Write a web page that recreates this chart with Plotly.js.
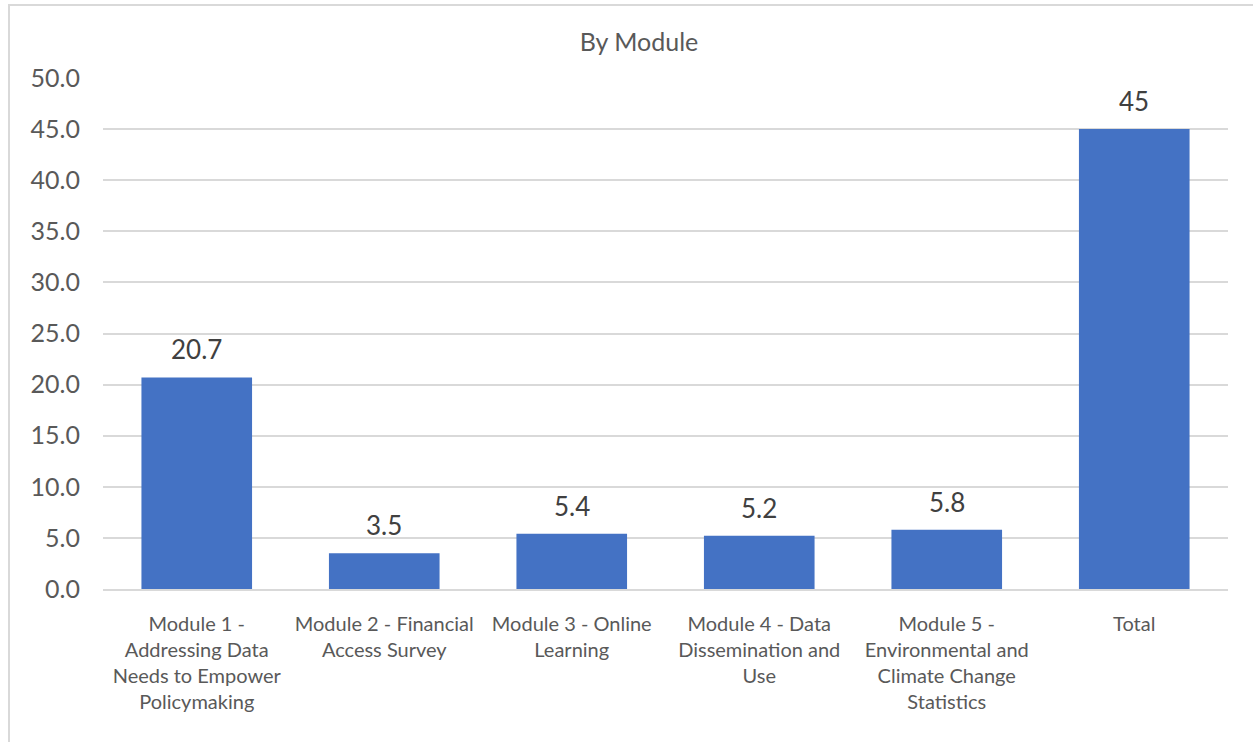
<!DOCTYPE html>
<html>
<head>
<meta charset="utf-8">
<script src="https://cdn.plot.ly/plotly-3.0.1.min.js"></script>
<style>
  html, body { margin: 0; padding: 0; background: #ffffff; overflow: hidden; }
  #chart { position: absolute; left: 0; top: 0; width: 1253px; height: 742px; }
  #frame { position: absolute; left: 8px; top: 4px; width: 1300px; height: 800px;
           border-left: 2px solid #d9d9d9; border-top: 2px solid #d9d9d9; pointer-events: none; }
</style>
</head>
<body>
<div id="chart"></div>
<div id="frame"></div>
<script>
const categories = [
  "Module 1 -<br>Addressing Data<br>Needs to Empower<br>Policymaking",
  "Module 2 - Financial<br>Access Survey",
  "Module 3 - Online<br>Learning",
  "Module 4 - Data<br>Dissemination and<br>Use",
  "Module 5 -<br>Environmental and<br>Climate Change<br>Statistics",
  "Total"
];
const values = [20.7, 3.5, 5.4, 5.2, 5.8, 45];
const valueLabels = ["20.7", "3.5", "5.4", "5.2", "5.8", "45"];
const yTicks = [0, 5, 10, 15, 20, 25, 30, 35, 40, 45, 50];
const yTickLabels = ["0.0", "5.0", "10.0", "15.0", "20.0", "25.0", "30.0", "35.0", "40.0", "45.0", "50.0"];
const chartTitle = "By Module";

const FONT = "Lato, 'Open Sans', sans-serif";

const trace = {
  type: "bar",
  x: categories,
  y: values,
  marker: { color: "#4472C4" },
  hoverinfo: "x+y"
};

const valueAnnotations = categories.map((c, i) => ({
  x: c,
  y: values[i],
  xref: "x",
  yref: "y",
  text: valueLabels[i],
  showarrow: false,
  xanchor: "center",
  yanchor: "bottom",
  yshift: 10,
  font: { family: FONT, size: 26, color: "#404040" }
}));

const layout = {
  width: 1253,
  height: 742,
  margin: { l: 103, r: 25, t: 78, b: 153 },
  paper_bgcolor: "#ffffff",
  plot_bgcolor: "#ffffff",
  bargap: 0.41,
  showlegend: false,
  annotations: valueAnnotations,
  title: {
    text: chartTitle,
    font: { family: FONT, size: 25, color: "#595959" },
    x: 639 / 1253, xref: "container", xanchor: "center",
    y: 1 - 42 / 742, yref: "container", yanchor: "middle"
  },
  xaxis: {
    tickfont: { family: FONT, size: 20, color: "#595959" },
    tickangle: 0,
    automargin: false,
    showgrid: false,
    showline: true,
    linecolor: "#d9d9d9",
    linewidth: 2,
    ticks: "",
    ticklabelstandoff: 16,
    fixedrange: true
  },
  yaxis: {
    range: [0, 50],
    tickvals: yTicks,
    ticktext: yTickLabels,
    tickfont: { family: FONT, size: 25, color: "#595959" },
    showgrid: true,
    gridcolor: "#d9d9d9",
    gridwidth: 2,
    zeroline: false,
    showline: false,
    ticks: "",
    ticklabelstandoff: 22,
    automargin: false,
    fixedrange: true
  }
};

Plotly.newPlot("chart", [trace], layout, { displayModeBar: false, staticPlot: true });
</script>
</body>
</html>
